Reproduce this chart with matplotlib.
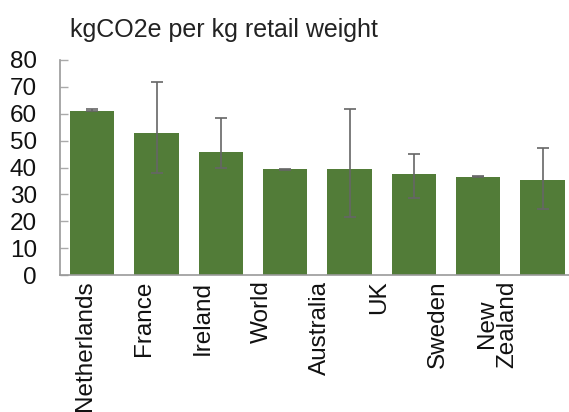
import matplotlib
matplotlib.use("Agg")
from matplotlib import pyplot as plt

plt.rcParams["font.family"] = ["Liberation Sans", "DejaVu Sans"]

countries = ["Netherlands", "France", "Ireland", "World", "Australia",
             "UK", "Sweden", "New\nZealand"]
values = [61.2, 52.8, 45.7, 39.4, 39.4, 37.5, 36.4, 35.3]
err_low = [61.2, 37.9, 40.0, 39.1, 21.4, 28.7, 36.4, 24.5]
err_high = [61.7, 71.9, 58.6, 39.4, 61.6, 45.2, 36.9, 47.2]
yticks = [0, 10, 20, 30, 40, 50, 60, 70, 80]

x = list(range(len(countries)))
yerr = [[v - lo for v, lo in zip(values, err_low)],
        [hi - v for v, hi in zip(values, err_high)]]

fig = plt.figure(figsize=(5.69, 4.12), dpi=100)
ax = fig.add_axes([60 / 569, 1 - 275 / 412, 509 / 569, 215 / 412])

ax.bar(x, values, width=0.69, color="#527c38", zorder=2)
ax.errorbar(x, values, yerr=yerr, fmt="none", ecolor="#666666",
            elinewidth=1.2, capsize=4.5, capthick=1.2, zorder=3)

ax.set_xlim(-0.5, 7.41)
ax.set_ylim(0, 80)
ax.set_yticks(yticks)
ax.set_yticklabels([str(t) for t in yticks], fontsize=17.5, color="#111111")

# labels sit a bit left of the bars in the original
label_pos = [-0.117 + 0.916 * i for i in x]
ax.set_xticks(label_pos)
ax.set_xticklabels(countries, rotation=90, fontsize=17.5, va="top",
                   ha="center", linespacing=0.9, color="#111111")
ax.tick_params(axis="x", length=0, pad=4)
ax.tick_params(axis="y", direction="in", length=6, width=1,
               color="#aaaaaa", pad=16.5)

for s in ["top", "right"]:
    ax.spines[s].set_visible(False)
ax.spines["left"].set_color("#999999")
ax.spines["bottom"].set_color("#999999")
ax.spines["left"].set_linewidth(1.2)
ax.spines["bottom"].set_linewidth(1.2)

fig.text(70 / 569, 1 - 37 / 412, "kgCO2e per kg retail weight",
         fontsize=18, color="#222222", ha="left", va="baseline")

plt.savefig("out.png", dpi=100)
